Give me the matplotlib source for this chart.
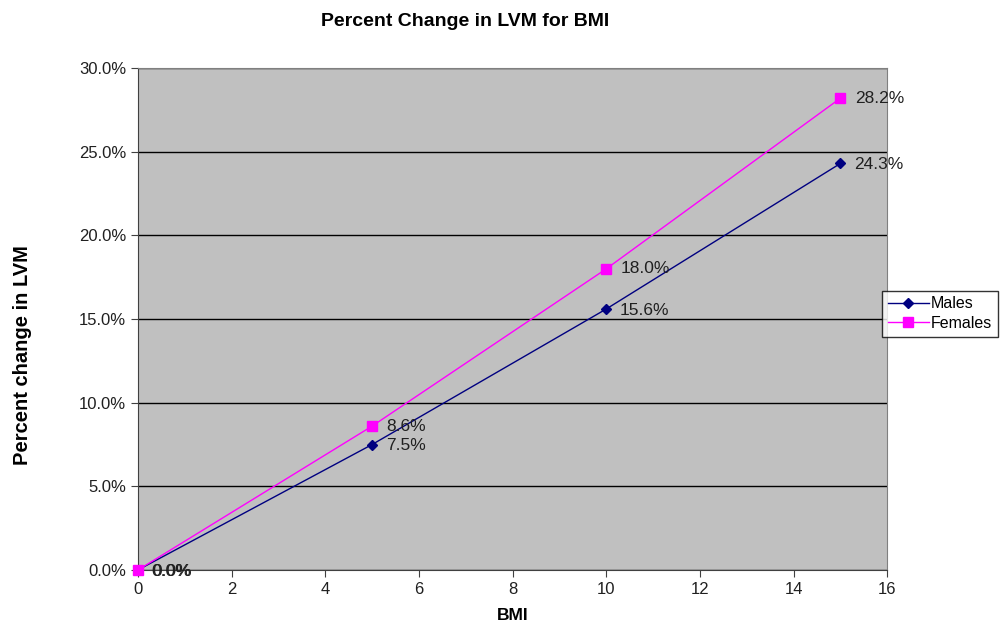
import matplotlib
matplotlib.use("Agg")
import matplotlib.pyplot as plt
from matplotlib.ticker import FuncFormatter, MultipleLocator

plt.rcParams['font.family'] = ['Liberation Sans', 'DejaVu Sans']

bmi = [0, 5, 10, 15]
males = [0.0, 7.5, 15.6, 24.3]
females = [0.0, 8.6, 18.0, 28.2]

fig = plt.figure(figsize=(10.07, 6.31), dpi=100)
ax = fig.add_axes([0.137, 0.0967, 0.744, 0.7953])
ax.set_facecolor('#c0c0c0')

ax.set_xlim(0, 16)
ax.set_ylim(0, 30)
ax.xaxis.set_major_locator(MultipleLocator(2))
ax.yaxis.set_major_locator(MultipleLocator(5))
ax.yaxis.set_major_formatter(FuncFormatter(lambda v, p: f"{v:.1f}%"))
ax.grid(axis='y', color='black', linewidth=1)
ax.set_axisbelow(True)

for side in ['top', 'right']:
    ax.spines[side].set_color('#808080')
for side in ['left', 'bottom']:
    ax.spines[side].set_color('#404040')

ax.tick_params(axis='both', direction='out', length=5, labelsize=12, color='#404040',
               labelcolor='#202020')

ln_m, = ax.plot(bmi, males, color='#000080', linewidth=1, marker='D',
                markersize=5, label='Males', clip_on=False, zorder=3)
ln_f, = ax.plot(bmi, females, color='#ff00ff', linewidth=1, marker='s',
                markersize=7.5, label='Females', clip_on=False, zorder=4)

for x, y in zip(bmi, males):
    ax.annotate(f"{y:.1f}%", (x, y), xytext=(10, -1), textcoords='offset points',
                va='center', ha='left', fontsize=12.5, color='#202020')
for x, y in zip(bmi, females):
    ax.annotate(f"{y:.1f}%", (x, y), xytext=(10.4, -1 if y == 0 else 0),
                textcoords='offset points',
                va='center', ha='left', fontsize=12.5, color='#202020')

fig.text(0.462, 0.966, 'Percent Change in LVM for BMI', ha='center', va='center',
         fontsize=14, fontweight='bold')
ax.set_xlabel('BMI', fontsize=12.5, fontweight='bold', labelpad=8)
fig.text(0.022, 0.437, 'Percent change in LVM', rotation=90, ha='center', va='center',
         fontsize=14.5, fontweight='bold')

leg = fig.legend(handles=[ln_m, ln_f], loc='center left',
                 bbox_to_anchor=(0.876, 0.503), fontsize=11.5, frameon=True,
                 fancybox=False, edgecolor='black', handlelength=2.6,
                 borderpad=0.35, labelspacing=0.3, handletextpad=0.1,
                 borderaxespad=0)
leg.get_frame().set_linewidth(1)

fig.savefig('out.png', dpi=100, facecolor='white')
